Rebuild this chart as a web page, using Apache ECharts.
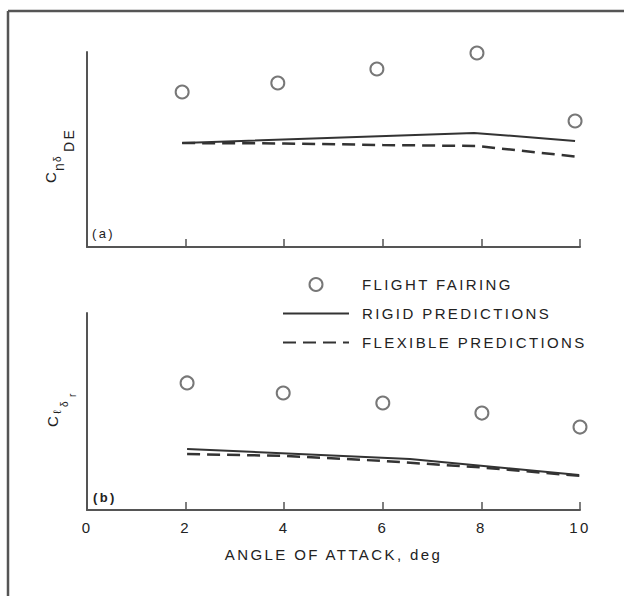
<!DOCTYPE html>
<html>
<head>
<meta charset="utf-8">
<script src="https://cdn.jsdelivr.net/npm/echarts@6/dist/echarts.min.js"></script>
<style>
  html, body { margin: 0; padding: 0; background: #fff; overflow: hidden; }
  #chart { width: 624px; height: 596px; }
  /* spaced-out drafting lettering */
  #chart svg text { letter-spacing: 2.4px; }
</style>
</head>
<body>
<div id="chart"></div>
<script>
// Angle-of-attack tick values shared by both panels
const angleTicks = [0, 2, 4, 6, 8, 10];

// (a) yawing-moment derivative due to differential elevator (arbitrary units)
const fairingA_x = [1.93, 3.87, 5.88, 7.91, 9.9];
const fairingA_y = [7.95, 8.41, 9.13, 9.95, 6.46];
const rigidA_x = [1.93, 7.85, 9.9];
const rigidA_y = [5.33, 5.85, 5.44];
const flexibleA_x = [1.93, 4, 6, 7.9, 9.94];
const flexibleA_y = [5.33, 5.31, 5.23, 5.18, 4.63];

// (b) rolling-moment derivative due to rudder (arbitrary units)
const fairingB_x = [2.03, 3.98, 6.0, 8.01, 10.0];
const fairingB_y = [6.45, 5.94, 5.43, 4.92, 4.21];
const rigidB_x = [2.03, 6.55, 9.98];
const rigidB_y = [3.10, 2.59, 1.78];
const flexibleB_x = [2.03, 4, 6, 8, 10];
const flexibleB_y = [2.84, 2.75, 2.49, 2.16, 1.73];

const seriesNames = ['FLIGHT FAIRING', 'RIGID PREDICTIONS', 'FLEXIBLE PREDICTIONS'];

const zip = (xs, ys) => xs.map((x, i) => [x, ys[i]]);

const FONT = "'Liberation Sans', Arial, sans-serif";
const INK = '#222';
const AXIS = '#555';

const chart = echarts.init(document.getElementById('chart'), null, { renderer: 'svg' });

function xAxisFor(gridIndex, withLabels) {
  return {
    type: 'value', gridIndex: gridIndex,
    min: angleTicks[0], max: angleTicks[angleTicks.length - 1], interval: 2,
    axisLine: { show: true, lineStyle: { color: AXIS, width: 2 } },
    axisTick: { show: true, inside: true, length: 8, lineStyle: { color: AXIS, width: 1.5 } },
    axisLabel: { show: withLabels, fontFamily: FONT, fontSize: 15, color: INK, margin: 10 },
    splitLine: { show: false },
    name: withLabels ? 'ANGLE OF ATTACK, deg' : '',
    nameLocation: 'middle', nameGap: 37,
    nameTextStyle: { fontFamily: FONT, fontSize: 15, color: INK }
  };
}

function yAxisFor(gridIndex) {
  return {
    type: 'value', gridIndex: gridIndex, min: 0, max: 10,
    axisLine: { show: true, lineStyle: { color: AXIS, width: 2 } },
    axisTick: { show: false }, axisLabel: { show: false }, splitLine: { show: false }
  };
}

// One glyph run of a rotated coefficient symbol: u runs along the reading
// direction, v is the baseline drop below the main letter.
function glyph(text, u, v, size) {
  return {
    type: 'text', x: u, y: v + 0.2 * size,
    style: { text: text, fontFamily: FONT, fontSize: size, fill: INK, align: 'left', verticalAlign: 'bottom' }
  };
}

function coefficientLabel(x, y, parts) {
  return { type: 'group', x: x, y: y, rotation: Math.PI / 2, children: parts };
}

const fairingStyle = { symbol: 'emptyCircle', symbolSize: 13, itemStyle: { color: '#555', borderWidth: 2 } };
const rigidStyle = { showSymbol: false, symbol: 'none', lineStyle: { color: '#333', width: 2, type: 'solid' }, itemStyle: { color: '#333' } };
const flexStyle = { showSymbol: false, symbol: 'none', lineStyle: { color: '#333', width: 2.5, type: [13, 7] }, itemStyle: { color: '#333' } };

const hiddenMarker = { opacity: 0, color: 'rgba(0,0,0,0)', borderWidth: 0 };

const option = {
  backgroundColor: '#fff',
  animation: false,
  grid: [
    { left: 87, right: 44, top: 52, height: 195 },
    { left: 87, right: 44, top: 313, height: 197 }
  ],
  xAxis: [xAxisFor(0, false), xAxisFor(1, true)],
  yAxis: [yAxisFor(0), yAxisFor(1)],
  legend: {
    orient: 'vertical', left: 277, top: 272,
    itemWidth: 66, itemHeight: 13, itemGap: 14,
    selectedMode: false,
    data: [
      { name: seriesNames[0] },
      { name: seriesNames[1], itemStyle: hiddenMarker },
      { name: seriesNames[2], itemStyle: hiddenMarker }
    ],
    textStyle: { fontFamily: FONT, fontSize: 15, color: INK, padding: [0, 0, 0, 8] }
  },
  graphic: [
    { type: 'line', shape: { x1: 8, y1: 11, x2: 624, y2: 11 }, style: { stroke: '#555', lineWidth: 2.5 } },
    { type: 'line', shape: { x1: 8, y1: 11, x2: 8, y2: 596 }, style: { stroke: '#555', lineWidth: 2.5 } },
    { type: 'text', left: 92, top: 227, style: { text: '(a)', font: '13px ' + FONT, fill: INK } },
    { type: 'text', left: 93, top: 491, style: { text: '(b)', font: 'bold 13px ' + FONT, fill: INK } },
    coefficientLabel(55, 183, [
      glyph('C', 0, 0, 15),
      glyph('n', 12, 8, 14),
      glyph('δ', 21, 5, 10),
      glyph('DE', 31, 18, 14)
    ]),
    coefficientLabel(57, 427, [
      glyph('C', 0, 0, 15),
      glyph('ℓ', 13, 3, 11),
      glyph('δ', 20, 10, 10),
      glyph('r', 30, 18, 10)
    ])
  ],
  series: [
    Object.assign({ type: 'scatter', name: seriesNames[0], xAxisIndex: 0, yAxisIndex: 0, data: zip(fairingA_x, fairingA_y) }, fairingStyle),
    Object.assign({ type: 'line', name: seriesNames[1], xAxisIndex: 0, yAxisIndex: 0, data: zip(rigidA_x, rigidA_y) }, rigidStyle),
    Object.assign({ type: 'line', name: seriesNames[2], xAxisIndex: 0, yAxisIndex: 0, data: zip(flexibleA_x, flexibleA_y) }, flexStyle),
    Object.assign({ type: 'scatter', name: seriesNames[0], xAxisIndex: 1, yAxisIndex: 1, data: zip(fairingB_x, fairingB_y) }, fairingStyle),
    Object.assign({ type: 'line', name: seriesNames[1], xAxisIndex: 1, yAxisIndex: 1, data: zip(rigidB_x, rigidB_y) }, rigidStyle),
    Object.assign({ type: 'line', name: seriesNames[2], xAxisIndex: 1, yAxisIndex: 1, data: zip(flexibleB_x, flexibleB_y) }, flexStyle)
  ]
};

chart.setOption(option);
</script>
</body>
</html>
